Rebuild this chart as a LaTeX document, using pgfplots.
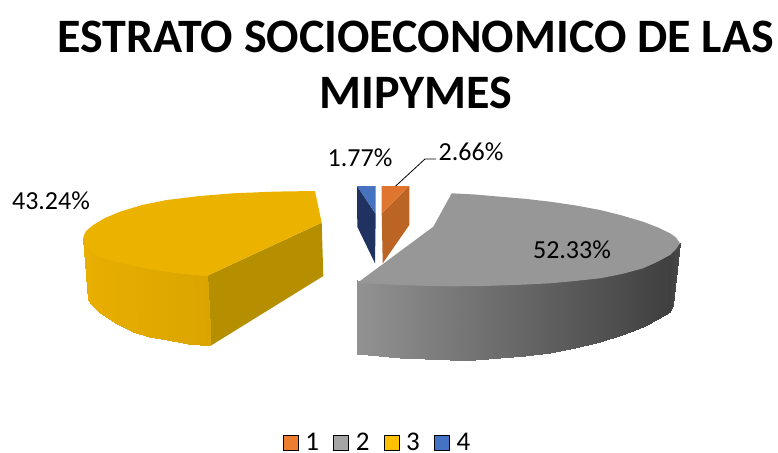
\documentclass[border=0pt]{standalone}
\usepackage{pgfplots}
\usepackage{fontspec}
\setmainfont{Carlito}
\pgfplotsset{compat=1.18}
\begin{document}
\begin{tikzpicture}
\begin{axis}[
  scale only axis, width=778pt, height=451pt,
  xmin=0, xmax=778, ymin=0, ymax=451, y dir=reverse,
  hide axis, clip=false,
  point meta min=0, point meta max=1,
  colormap={greymap}{rgb255=(146,146,146) rgb255=(64,64,64)},
  colormap={yellowmap}{rgb255=(232,174,0) rgb255=(219,165,0)},
  legend columns=4,
  legend cell align=left,
  legend style={at={(axis cs:283,442.5)}, anchor=west, draw=none, fill=none, inner sep=0pt, outer sep=0pt,
    nodes={inner sep=0pt, font=\fontsize{27}{27}\selectfont},
    /tikz/every odd column/.append style={column sep=7pt},
    /tikz/every even column/.append style={column sep=14.3pt}},
  legend image code/.code={\fill[#1] (0pt,-7.5pt) rectangle (15pt,7.5pt);},
]
\addlegendimage{fill={rgb,255:red,237;green,125;blue,49}}
\addlegendimage{fill={rgb,255:red,165;green,165;blue,165}}
\addlegendimage{fill={rgb,255:red,255;green,192;blue,0}}
\addlegendimage{fill={rgb,255:red,68;green,114;blue,196}}
\path (axis cs:0,0) rectangle (axis cs:778,451);
% grey slice: side
\addplot[forget plot, patch, patch type=rectangle, shader=interp, colormap name=greymap, point meta=explicit] table[meta=c] {
x y c
357.3 280 0
400 281 0.14
400 357.7 0.14
357.3 354 0
400 281 0.14
425 282 0.22
425 359.2 0.22
400 357.7 0.14
425 282 0.22
450 282 0.30
450 360 0.30
425 359.2 0.22
450 282 0.30
475 282 0.38
475 359.6 0.38
450 360 0.30
475 282 0.38
500 281 0.46
500 358.3 0.46
475 359.6 0.38
500 281 0.46
525 280 0.54
525 356 0.54
500 358.3 0.46
525 280 0.54
550 279 0.62
550 352.7 0.62
525 356 0.54
550 279 0.62
575 277 0.70
575 347.7 0.70
550 352.7 0.62
575 277 0.70
600 274 0.78
600 341.7 0.78
575 347.7 0.70
600 274 0.78
622 270 0.85
622 334.5 0.85
600 341.7 0.78
622 270 0.85
643 264 0.92
643 326.7 0.92
622 334.5 0.85
643 264 0.92
658 258 0.97
658 318.8 0.97
643 326.7 0.92
658 258 0.97
670 251 1
670 311.7 1
658 318.8 0.97
670 251 1
680 243.3 0.9
673.3 305 0.9
670 311.7 1
};
% grey slice: top
\addplot[forget plot, draw=none, fill={rgb,255:red,151;green,151;blue,151}] coordinates {
(357.3,283) (433.3,226.7) (451.7,193.3) (475,194.5) (500,196.7) (525,198.8) (550,201.7) (575,205.3) (600,210) (622,215.5) (643,221.7) (658,227.5) (670,233.3) (676,237.5) (680,243.3)
(676,249) (670,255) (657,262) (643,268.3) (622,274) (600,278.3) (575,281) (550,283.3) (525,284.6) (500,285.5) (475,286.2) (450,286.3) (425,285.8) (400,285)
} --cycle;
% yellow slice: inner face
\addplot[forget plot, draw=none, fill={rgb,255:red,182;green,143;blue,0}] coordinates {
(206.7,276) (321.7,222.7) (323.3,276) (210.7,345.7)
} --cycle;
% yellow slice: side
\addplot[forget plot, patch, patch type=rectangle, shader=interp, colormap name=yellowmap, point meta=explicit] table[meta=c] {
x y c
83.3 238 0
92 248 0.05
91.7 305 0.05
88.3 300 0
92 248 0.05
100 253 0.1
100 313.3 0.1
91.7 305 0.05
100 253 0.1
115 257 0.2
116.7 324 0.2
100 313.3 0.1
115 257 0.2
130 261 0.3
133 331.7 0.3
116.7 324 0.2
130 261 0.3
148 264 0.47
149 336.5 0.47
133 331.7 0.3
148 264 0.47
166.7 267 0.65
166.7 340 0.65
149 336.5 0.47
166.7 267 0.65
186 270 0.82
188 343.5 0.82
166.7 340 0.65
186 270 0.82
206.7 272 1
210.7 345.7 1
188 343.5 0.82
};
% yellow slice: top
\addplot[forget plot, draw=none, fill={rgb,255:red,235;green,179;blue,0}] coordinates {
(315,191) (321.7,222.7) (206.7,276) (186,274.3) (166.7,271.7) (148,268.7) (130,265) (115,261.5) (100,257) (92,252) (88,247.5) (85,242) (83.3,236.7) (86,231) (93.3,225) (105,218) (120,211.7) (142,205) (166.7,200) (200,196) (233,193.3) (275,191.6)
} --cycle;
% blue slice
\addplot[forget plot, draw=none, fill={rgb,255:red,31;green,50;blue,96}] coordinates {
(357,186) (375.7,214) (375,263.3) (357.3,226.7)
} --cycle;
\addplot[forget plot, draw=none, fill={rgb,255:red,70;green,114;blue,192}] coordinates {
(357,186) (375.7,186) (375.7,214)
} --cycle;
% orange slice
\addplot[forget plot, draw=none, fill={rgb,255:red,188;green,100;blue,35}] coordinates {
(409.3,186) (409.3,225) (382.7,263.3) (381.7,213.3)
} --cycle;
\addplot[forget plot, draw=none, fill={rgb,255:red,224;green,117;blue,47}] coordinates {
(381.7,186) (409.3,186) (381.7,213.3)
} --cycle;
% leader line
\addplot[forget plot, black, line width=0.8pt] coordinates {(395.7,186) (425,159) (436,159)};
\node[font=\fontsize{26}{26}\selectfont] at (axis cs:360,158) {1.77\%};
\node[font=\fontsize{26}{26}\selectfont] at (axis cs:471,152) {2.66\%};
\node[font=\fontsize{26}{26}\selectfont] at (axis cs:51,201) {43.24\%};
\node[font=\fontsize{26}{26}\selectfont] at (axis cs:572,250) {52.33\%};
\node[font=\fontsize{48}{56}\selectfont\bfseries, align=center] at (axis cs:415.5,65) {ESTRATO SOCIOECONOMICO DE LAS\\MIPYMES};
\legend{1,2,3,4}
\end{axis}
\end{tikzpicture}
\end{document}
